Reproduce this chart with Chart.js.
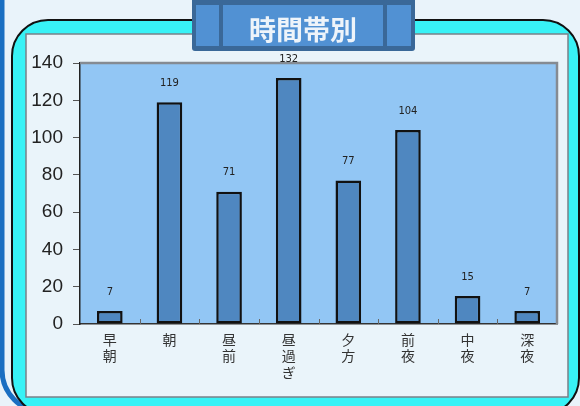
<!DOCTYPE html>
<html>
<head>
<meta charset="utf-8">
<script src="https://cdn.jsdelivr.net/npm/chart.js@4/dist/chart.umd.min.js"></script>
<style>
  html, body { margin: 0; padding: 0; background: #e9f3fa; }
  #wrap { width: 580px; height: 406px; }
</style>
</head>
<body>
<div id="wrap"><canvas id="grafico" width="580" height="406"></canvas></div>
<script>
// dados do gráfico
const categorias = [['早', '朝'], ['朝'], ['昼', '前'], ['昼', '過', 'ぎ'], ['夕', '方'], ['前', '夜'], ['中', '夜'], ['深', '夜']];
const valores = [7, 119, 71, 132, 77, 104, 15, 7];
const titulo = '時間帯別';
const yMax = 140;
const yPasso = 20;

function roundRect(ctx, x, y, w, h, r) {
    ctx.beginPath();
    ctx.moveTo(x + r, y);
    ctx.arcTo(x + w, y, x + w, y + h, r);
    ctx.arcTo(x + w, y + h, x, y + h, r);
    ctx.arcTo(x, y + h, x, y, r);
    ctx.arcTo(x, y, x + w, y, r);
    ctx.closePath();
}

// fundo, moldura e área do gráfico
const fundoPlugin = {
    id: 'fundo',
    beforeDraw(chart) {
        const ctx = chart.ctx;
        const a = chart.chartArea;
        ctx.save();
        ctx.fillStyle = '#e9f3fa';
        ctx.fillRect(0, 0, chart.width, chart.height);

        // moldura azul externa
        ctx.strokeStyle = '#1a6fc2';
        ctx.lineWidth = 5;
        roundRect(ctx, 2, -60, 640, 472, 42);
        ctx.stroke();

        // moldura ciano
        roundRect(ctx, 12, 20, 567, 394, 36);
        ctx.fillStyle = '#38f2f6';
        ctx.fill();
        ctx.strokeStyle = '#111';
        ctx.lineWidth = 2;
        ctx.stroke();

        // painel claro
        ctx.fillStyle = '#eaf4fa';
        ctx.fillRect(26, 34, 542, 363);
        ctx.strokeStyle = '#7a8088';
        ctx.lineWidth = 1.5;
        ctx.strokeRect(26, 34, 542, 363);

        // área de plotagem
        ctx.fillStyle = '#92c6f4';
        ctx.fillRect(a.left, a.top, a.right - a.left, a.bottom - a.top);
        ctx.restore();
    },
    afterDatasetsDraw(chart) {
        const ctx = chart.ctx;
        const a = chart.chartArea;
        const x = chart.scales.x;
        ctx.save();
        // borda cinza superior e direita
        ctx.strokeStyle = '#858b92';
        ctx.lineWidth = 2.5;
        ctx.beginPath();
        ctx.moveTo(a.left, a.top);
        ctx.lineTo(a.right, a.top);
        ctx.lineTo(a.right, a.bottom);
        ctx.stroke();

        // marcas internas do eixo x
        ctx.strokeStyle = '#666';
        ctx.lineWidth = 1;
        for (let i = 0; i < valores.length - 1; i++) {
            const px = Math.round((x.getPixelForValue(i) + x.getPixelForValue(i + 1)) / 2) + 0.5;
            ctx.beginPath();
            ctx.moveTo(px, a.bottom - 5);
            ctx.lineTo(px, a.bottom);
            ctx.stroke();
        }

        // rótulos dos valores
        const meta = chart.getDatasetMeta(0);
        ctx.fillStyle = '#222';
        ctx.font = '10px "DejaVu Sans"';
        ctx.textAlign = 'center';
        ctx.textBaseline = 'middle';
        meta.data.forEach((bar, i) => {
            ctx.fillText(String(valores[i]), bar.x, bar.y - 19);
        });
        ctx.restore();
    },
    afterDraw(chart) {
        const ctx = chart.ctx;
        ctx.save();
        // caixa do título
        roundRect(ctx, 192, -4, 223, 55, 3);
        ctx.fillStyle = '#3a6898';
        ctx.fill();
        ctx.fillStyle = '#5191d3';
        ctx.fillRect(196, 5, 23, 41);
        ctx.fillRect(223, 5, 160, 41);
        ctx.fillRect(387, 5, 24, 41);
        ctx.fillStyle = '#eef4fa';
        ctx.font = 'bold 27px "Noto Sans CJK JP"';
        ctx.textAlign = 'center';
        ctx.textBaseline = 'middle';
        ctx.fillText(titulo, 303, 30);
        ctx.restore();
    }
};

const ctx = document.getElementById('grafico').getContext('2d');
new Chart(ctx, {
    type: 'bar',
    data: {
        labels: categorias,
        datasets: [{
            data: valores,
            backgroundColor: '#4f87c0',
            borderColor: '#111',
            borderWidth: 2.5,
            borderSkipped: false,
            categoryPercentage: 1,
            barPercentage: 0.43
        }]
    },
    options: {
        responsive: false,
        animation: false,
        layout: { padding: { left: 0, right: 23, top: 63, bottom: 0 } },
        plugins: {
            legend: { display: false },
            tooltip: { enabled: false }
        },
        scales: {
            x: {
                afterFit: s => { s.height = 82; },
                grid: { display: true, drawOnChartArea: false, drawTicks: false },
                border: { display: true, color: '#333', width: 1.5 },
                ticks: {
                    color: '#333',
                    padding: 8,
                    maxRotation: 0,
                    autoSkip: false,
                    font: { family: '"Noto Sans CJK JP"', size: 14, lineHeight: 1.15 }
                }
            },
            y: {
                min: 0,
                max: yMax,
                afterFit: s => { s.width = 80; },
                grid: { drawOnChartArea: false, tickLength: 7, color: '#555' },
                border: { display: true, color: '#222', width: 1.5 },
                ticks: {
                    stepSize: yPasso,
                    color: '#222',
                    padding: 10,
                    font: { family: '"Liberation Sans"', size: 19 }
                }
            }
        }
    },
    plugins: [fundoPlugin]
});
</script>
</body>
</html>
